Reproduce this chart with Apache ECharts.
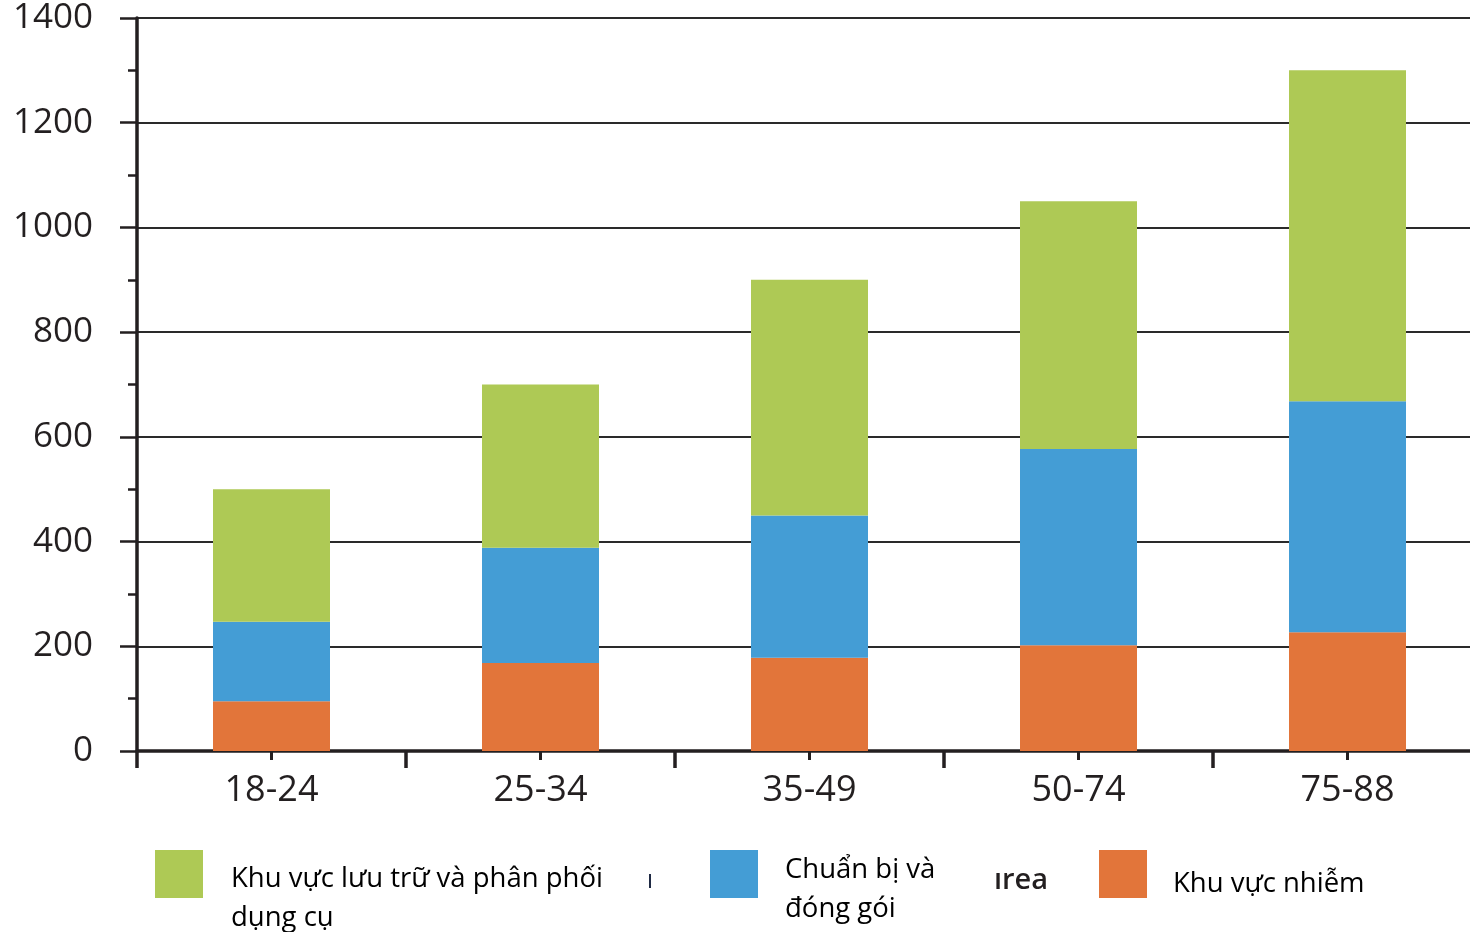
<!DOCTYPE html>
<html>
<head>
<meta charset="utf-8">
<script src="https://cdn.jsdelivr.net/npm/echarts@6/dist/echarts.min.js"></script>
<style>
  html, body { margin: 0; padding: 0; background: #fff; overflow: hidden; }
  /* the plot runs slightly past the right edge of the window */
  #chart { width: 1482px; height: 932px; }
</style>
</head>
<body>
<div id="chart"></div>
<script>
// Age groups on the category axis
const ageGroups = ['18-24', '25-34', '35-49', '50-74', '75-88'];

// Stacked segments, bottom to top
const contaminatedArea = [95, 168, 178, 202, 227];
const prepPackArea = [152, 220, 272, 375, 441];
const storageArea = [253, 312, 450, 473, 632];

// Value axis settings
const yMin = 0;
const yMax = 1400;
const yStep = 200;

const seriesNames = {
  storage: 'Khu vực lưu trữ và phân phối\ndụng cụ',
  prep: 'Chuẩn bị và\nđóng gói',
  contaminated: 'Khu vực nhiễm'
};

const colors = {
  storage: '#aec955',
  prep: '#449dd5',
  contaminated: '#e2753a'
};

const ink = '#231f20';
const axisFont = 'Open Sans';
const legendFont = 'Open Sans';

const chart = echarts.init(document.getElementById('chart'), null, { renderer: 'canvas' });

const grid = { left: 137, top: 18, width: 1345, height: 733 };

function legendItem(x, y, color, text, tx, ty) {
  return [
    { type: 'rect', left: x, top: y, shape: { width: 48, height: 48 }, style: { fill: color } },
    { type: 'text', left: tx, top: ty, style: { text: text, fill: '#000', font: '400 27.5px "' + legendFont + '"', lineHeight: 39 } }
  ];
}

const option = {
  animation: false,
  backgroundColor: '#fff',
  grid: grid,
  xAxis: [
    {
      type: 'category',
      data: ageGroups,
      axisLine: { show: true, lineStyle: { color: ink, width: 3.5 } },
      axisTick: { show: true, alignWithLabel: false, length: 17, lineStyle: { color: ink, width: 3.5 } },
      axisLabel: { color: ink, fontFamily: axisFont, fontWeight: 500, fontSize: 36, margin: 22 },
      splitLine: { show: false }
    },
    {
      type: 'category',
      data: ageGroups,
      position: 'bottom',
      axisLine: { show: false },
      axisTick: { show: true, alignWithLabel: true, length: 9, lineStyle: { color: ink, width: 3 } },
      axisLabel: { show: false },
      splitLine: { show: false }
    }
  ],
  yAxis: {
    type: 'value',
    min: yMin,
    max: yMax,
    interval: yStep,
    axisLine: { show: true, lineStyle: { color: ink, width: 3.5 } },
    axisTick: { show: true, length: 17, lineStyle: { color: ink, width: 2.5 } },
    minorTick: { show: true, splitNumber: 2, length: 9, lineStyle: { color: ink, width: 2.5 } },
    axisLabel: {
      color: ink,
      fontFamily: axisFont,
      fontWeight: 500,
      fontSize: 35,
      margin: 44,
      formatter: function (v) { return String(v); }
    },
    splitLine: { show: true, lineStyle: { color: '#2a2a2a', width: 1.8 } }
  },
  series: [
    {
      name: seriesNames.contaminated,
      type: 'bar',
      stack: 'total',
      data: contaminatedArea,
      barWidth: 117,
      itemStyle: { color: colors.contaminated }
    },
    {
      name: seriesNames.prep,
      type: 'bar',
      stack: 'total',
      data: prepPackArea,
      barWidth: 117,
      itemStyle: { color: colors.prep }
    },
    {
      name: seriesNames.storage,
      type: 'bar',
      stack: 'total',
      data: storageArea,
      barWidth: 117,
      itemStyle: { color: colors.storage }
    }
  ],
  graphic: [].concat(
    legendItem(155, 850, colors.storage, seriesNames.storage, 231, 860),
    legendItem(710, 850, colors.prep, seriesNames.prep, 785, 851),
    legendItem(1099, 850, colors.contaminated, seriesNames.contaminated, 1173, 865),
    [
      { type: 'rect', left: 649, top: 874, shape: { width: 2, height: 14 }, style: { fill: '#1f2a44' } },
      { type: 'text', left: 994, top: 866, style: { text: 'ırea', fill: ink, font: '600 29px "' + axisFont + '"' } }
    ]
  )
};

chart.setOption(option);
</script>
</body>
</html>
